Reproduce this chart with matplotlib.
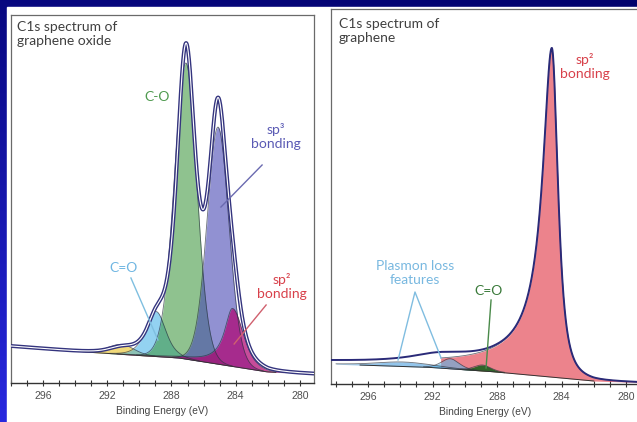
import numpy as np
import matplotlib.pyplot as plt
from matplotlib import patheffects as pe
from matplotlib.patches import Rectangle
from matplotlib.ticker import MultipleLocator

# ---- graphene oxide (left panel) ----
# baseline (binding energy, intensity)
go_base_ev = [298.0, 292.5, 287.5, 282.0, 279.0]
go_base_val = [37, 30, 25, 11, 9]
# fitted components: centre, height, half widths (high / low BE side), Pearson VII shape
go_names = ['shake-up', 'C=O', 'C-O', 'sp3', 'sp2']
go_centre = [291.1, 288.95, 287.1, 285.1, 284.2]
go_height = [10, 45, 296, 237, 58]
go_hw_hi = [1.0, 0.75, 0.85, 0.8, 0.6]
go_hw_lo = [0.9, 0.7, 0.8, 0.8, 0.78]
go_m_hi = [10, 3, 10, 10, 1]
go_m_lo = [10, 3, 10, 10, 3]
go_fill_from = [None, None, None, None, None]
# measured envelope
go_env_centre = [291.1, 288.95, 287.1, 285.1, 284.2]
go_env_height = [6, 30, 302, 240, 45]
go_env_hw_hi = [1.0, 0.7, 0.68, 0.68, 0.6]
go_env_hw_lo = [1.0, 0.7, 0.68, 0.68, 0.6]
go_env_m_hi = [2, 2, 2, 2, 2]
go_env_m_lo = [2, 2, 2, 2, 2]

# ---- graphene (right panel) ----
gr_base_ev = [298.4, 292.0, 288.0, 284.0, 282.0, 279.0]
gr_base_val = [20, 16.5, 12, 6, 3, 1.5]
gr_names = ['sp2', 'plasmon 1', 'plasmon 2', 'C=O']
gr_centre = [284.6, 293.8, 290.9, 288.9]
gr_height = [329, 4.5, 10, 6]
gr_hw_hi = [0.75, 2.0, 0.65, 0.6]
gr_hw_lo = [0.45, 2.0, 0.65, 0.6]
gr_m_hi = [0.7, 4, 4, 4]
gr_m_lo = [1.5, 4, 4, 4]
gr_fill_from = [291.5, None, None, None]
# measured envelope
gr_env_centre = [284.6, 291.5]
gr_env_height = [329, 6]
gr_env_hw_hi = [0.75, 2.0]
gr_env_hw_lo = [0.45, 2.0]
gr_env_m_hi = [0.7, 2]
gr_env_m_lo = [1.5, 2]

go_colors = ['#e8c020', '#3aaee6', '#3e963e', '#4848b4', '#b00070']
go_alpha = [0.6, 0.55, 0.58, 0.6, 0.7]
gr_colors = ['#e03040', '#3a96dc', '#5ab4e6', '#0f5f18']
gr_alpha = [0.6, 0.55, 0.6, 0.85]

ev = np.linspace(279.0, 298.5, 3000)


def pearson7(x, c, h, w_hi, w_lo, m_hi, m_lo):
    hi = x > c
    w = np.where(hi, w_hi, w_lo)
    m = np.where(hi, m_hi, m_lo)
    k = 2 ** (1 / m) - 1
    return h / (1 + ((x - c) / w) ** 2 * k) ** m


def baseline(base_ev, base_val):
    return np.interp(ev, base_ev[::-1], base_val[::-1])


def draw_components(ax, base, centre, height, hw_hi, hw_lo, m_hi, m_lo, fill_from, colors, alphas):
    for c, h, wh, wl, mh, ml, lim, col, a in zip(centre, height, hw_hi, hw_lo, m_hi, m_lo,
                                                   fill_from, colors, alphas):
        comp = pearson7(ev, c, h, wh, wl, mh, ml)
        mask = comp > 0.4
        if lim is not None:
            mask &= ev < lim
        ax.fill_between(ev, base, base + comp, where=mask, color=col, alpha=a, lw=0, zorder=2)
        ax.plot(ev, np.where(mask, base + comp, np.nan), color='#2a3340', lw=0.6, alpha=0.7, zorder=3)


def envelope(base, centre, height, hw_hi, hw_lo, m_hi, m_lo):
    env = base.copy()
    for c, h, wh, wl, mh, ml in zip(centre, height, hw_hi, hw_lo, m_hi, m_lo):
        env += pearson7(ev, c, h, wh, wl, mh, ml)
    return env


def style_axes(ax, xlim, ylim, right_spine=True):
    ax.set_xlim(*xlim)
    ax.set_ylim(*ylim)
    ax.set_yticks([])
    ax.set_facecolor('white')
    for s in ['left', 'top', 'right']:
        ax.spines[s].set_color('#6a6a6a')
        ax.spines[s].set_linewidth(0.9)
    ax.spines['right'].set_visible(right_spine)
    ax.spines['bottom'].set_color('#333333')
    ax.spines['bottom'].set_linewidth(1.0)
    ax.xaxis.set_major_locator(MultipleLocator(4))
    ax.xaxis.set_minor_locator(MultipleLocator(1))
    ax.tick_params(axis='x', which='both', direction='inout', length=5, width=0.8,
                   color='#333333', labelcolor='#505050', labelsize=7.6, pad=3)
    for lab in ax.get_xticklabels():
        lab.set_family('Liberation Sans')
    ax.set_xlabel('Binding Energy (eV)', fontsize=7.4, color='#444444',
                  family='Liberation Sans', labelpad=4)


fig = plt.figure(figsize=(6.37, 4.22), dpi=100)

# blue slide background with a white card
bg = fig.add_axes([0, 0, 1, 1], zorder=-10)
yy, xx = np.mgrid[0:422, 0:637]
t = yy / 421.0
r = 8 + 32 * t - 6 * xx / 637
b = 128 + 95 * t - 20 * xx / 637
img = np.dstack([r, r, b]) / 255.0
bg.imshow(np.clip(img, 0, 1), extent=(0, 637, 422, 0), aspect='auto')
bg.add_patch(Rectangle((7, 7), 640, 420, color='white'))
bg.set_xlim(0, 637)
bg.set_ylim(422, 0)
bg.axis('off')

lab_font = 'Lato'

# ---------------- left: graphene oxide ----------------
ax1 = fig.add_axes([10.7 / 637, 39 / 422, 303.3 / 637, 368 / 422])
base1 = baseline(go_base_ev, go_base_val)
draw_components(ax1, base1, go_centre, go_height, go_hw_hi, go_hw_lo,
                go_m_hi, go_m_lo, go_fill_from, go_colors, go_alpha)
ax1.plot(ev, np.where((ev < 293.5) & (ev > 281.5), base1, np.nan), color='#333333', lw=0.7, zorder=3)
env1 = envelope(base1, go_env_centre, go_env_height, go_env_hw_hi, go_env_hw_lo,
                go_env_m_hi, go_env_m_lo)
ax1.plot(ev, env1, color='white', lw=0.8, zorder=4,
         path_effects=[pe.Stroke(linewidth=2.8, foreground='#34347e'), pe.Normal()])
style_axes(ax1, (298.0, 279.13), (0, 368))

ax1.text(0.021, 0.985, 'C1s spectrum of\ngraphene oxide', transform=ax1.transAxes,
         ha='left', va='top', fontsize=10, color='#404040', family=lab_font, linespacing=1.25)
ax1.text(288.9, 286, 'C-O', ha='center', va='center', fontsize=10, color='#4f9a4f', family=lab_font)
ax1.text(281.5, 247, 'sp³\nbonding', ha='center', va='center', fontsize=10, color='#5a5ab4',
         family=lab_font, linespacing=1.2)
ax1.plot([282.36, 284.92], [218, 176], color='#6a6ab0', lw=1.0, zorder=5)
ax1.text(290.96, 115, 'C=O', ha='center', va='center', fontsize=10, color='#6fb6e2', family=lab_font)
ax1.plot([290.52, 288.84], [105, 43], color='#7fbfe0', lw=1.0, zorder=5)
ax1.text(281.12, 97, 'sp²\nbonding', ha='center', va='center', fontsize=10, color='#d8404a',
         family=lab_font, linespacing=1.2)
ax1.plot([282.11, 284.1], [78, 39], color='#d0606e', lw=1.0, zorder=5)

# ---------------- right: graphene ----------------
ax2 = fig.add_axes([331 / 637, 38 / 422, 309 / 637, 375 / 422])
base2 = baseline(gr_base_ev, gr_base_val)
draw_components(ax2, base2, gr_centre, gr_height, gr_hw_hi, gr_hw_lo,
                gr_m_hi, gr_m_lo, gr_fill_from, gr_colors, gr_alpha)
ax2.plot(ev, np.where((ev < 296.5) & (ev > 282.0), base2, np.nan), color='#333333', lw=0.7, zorder=3)
env2 = envelope(base2, gr_env_centre, gr_env_height, gr_env_hw_hi, gr_env_hw_lo,
                gr_env_m_hi, gr_env_m_lo)
ax2.plot(ev, env2, color='#2a2a78', lw=1.4, zorder=4)
style_axes(ax2, (298.3, 279.13), (0, 375), right_spine=False)

ax2.text(0.026, 0.976, 'C1s spectrum of\ngraphene', transform=ax2.transAxes,
         ha='left', va='top', fontsize=10, color='#404040', family=lab_font, linespacing=1.25)
ax2.text(282.54, 318, 'sp²\nbonding', ha='center', va='center', fontsize=10, color='#d8404a',
         family=lab_font, linespacing=1.2)
ax2.text(293.09, 111, 'Plasmon loss\nfeatures', ha='center', va='center', fontsize=10,
         color='#78b8e0', family=lab_font, linespacing=1.2)
ax2.plot([294.14, 293.09, 291.47], [24, 92, 26], color='#80bde0', lw=1.0, zorder=5)
ax2.text(288.5, 93, 'C=O', ha='center', va='center', fontsize=10, color='#3a7a3a', family=lab_font)
ax2.plot([288.37, 288.68], [84, 16], color='#4a8a4a', lw=1.0, zorder=5)

fig.savefig('out.png', dpi=100)
